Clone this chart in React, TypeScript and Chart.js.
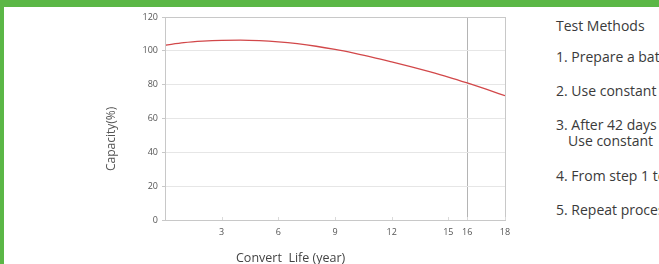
import React, { useEffect, useRef } from "react";
import { Chart, registerables } from "chart.js";

Chart.register(...registerables);

const years = [0, 1, 2, 3, 4, 5, 6, 7, 8, 9, 10, 11, 12, 13, 14, 15, 16, 17, 18];
const capacity = [103.3, 104.8, 105.7, 106.2, 106.3, 106.0, 105.3, 104.2, 102.7, 100.8, 98.6, 96.2, 93.5, 90.7, 87.7, 84.5, 81.0, 77.3, 73.5];
const xTicks = [3, 6, 9, 12, 15, 16, 18];
const yTicks = [0, 20, 40, 60, 80, 100, 120];
const markerYear = 16;
const xTitle = "Convert  Life (year)";
const yTitle = "Capacity(%)";
const methodsTitle = "Test Methods";
const methods = [
  "1. Prepare a battery",
  "2. Use constant",
  "3. After 42 days",
  "Use constant",
  "4. From step 1 to",
  "5. Repeat process",
];

const frame = {
  id: "frame",
  afterDraw(chart: any) {
    const { ctx, chartArea } = chart;
    ctx.save();
    ctx.strokeStyle = "#c8c8c8";
    ctx.lineWidth = 1;
    ctx.strokeRect(Math.round(chartArea.left) + 0.5, Math.round(chartArea.top) + 0.5, Math.round(chartArea.right - chartArea.left), Math.round(chartArea.bottom - chartArea.top));
    const xs = chart.scales.x;
    ctx.strokeStyle = "#dadada";
    xTicks.forEach((v) => {
      const px = Math.round(xs.getPixelForValue(v)) + 0.5;
      ctx.beginPath();
      ctx.moveTo(px, chartArea.bottom);
      ctx.lineTo(px, chartArea.bottom - 3);
      ctx.stroke();
    });
    ctx.restore();
  },
};

export default function App() {
  const ref = useRef<HTMLCanvasElement>(null);
  useEffect(() => {
    if (!ref.current) return;
    const chart = new Chart(ref.current, {
      type: "line",
      data: {
        datasets: [
          {
            data: years.map((y, i) => ({ x: y, y: capacity[i] })),
            borderColor: "#d2484a",
            borderWidth: 1.3,
            pointRadius: 0,
            cubicInterpolationMode: "monotone",
            fill: false,
          },
        ],
      },
      plugins: [frame],
      options: {
        animation: false,
        responsive: false,
        maintainAspectRatio: false,
        layout: { padding: { left: 0, top: 17, right: 35, bottom: 0 } },
        plugins: { legend: { display: false }, tooltip: { enabled: false } },
        scales: {
          x: {
            type: "linear",
            min: 0,
            max: 18,
            afterBuildTicks: (s: any) => {
              s.ticks = xTicks.map((v) => ({ value: v }));
            },
            afterFit: (s: any) => {
              s.height = 44;
            },
            ticks: {
              autoSkip: false,
              maxRotation: 0,
              padding: 7,
              color: "#555",
              font: { family: "Open Sans", size: 9 },
            },
            grid: {
              drawTicks: false,
              color: (c: any) => (c.tick && c.tick.value === markerYear ? "#b4b4b4" : "rgba(0,0,0,0)"),
              lineWidth: 1,
            },
            border: { color: "#c8c8c8" },
          },
          y: {
            min: 0,
            max: 120,
            afterBuildTicks: (s: any) => {
              s.ticks = yTicks.map((v) => ({ value: v }));
            },
            afterFit: (s: any) => {
              s.width = 165;
            },
            ticks: {
              padding: 4,
              color: "#555",
              font: { family: "Open Sans", size: 9 },
            },
            grid: { color: "#e6e6e6", tickLength: 3, tickColor: "#c8c8c8" },
            border: { color: "#c8c8c8" },
          },
        },
      },
    });
    return () => chart.destroy();
  }, []);

  const textStyle: React.CSSProperties = {
    position: "absolute",
    left: 556,
    fontFamily: "Open Sans",
    fontSize: 14,
    color: "#3a3a3a",
    whiteSpace: "nowrap",
    lineHeight: "16px",
  };
  const tops = [18, 49, 83, 117, 133, 168, 202];

  return (
    <div
      style={{
        position: "fixed",
        left: 0,
        top: 0,
        width: 659,
        height: 264,
        background: "#fff",
        overflow: "hidden",
      }}
    >
      <canvas ref={ref} width={540} height={264} style={{ position: "absolute", left: 0, top: 0, width: 540, height: 264 }} />
      <div style={{ position: "absolute", left: 0, top: 0, width: 659, height: 7, background: "#5bb746" }} />
      <div style={{ position: "absolute", left: 0, top: 0, width: 4, height: 264, background: "#5bb746" }} />
      <div
        style={{
          position: "absolute",
          left: 236,
          top: 249,
          fontFamily: "Open Sans",
          fontSize: 12.5,
          lineHeight: "17px",
          color: "#444",
          whiteSpace: "pre",
        }}
      >
        {xTitle}
      </div>
      <div
        style={{
          position: "absolute",
          left: 103,
          top: 106,
          height: 66,
          writingMode: "vertical-rl",
          transform: "rotate(180deg)",
          fontFamily: "Open Sans",
          fontSize: 12,
          lineHeight: "16px",
          textAlign: "center",
          color: "#555",
          whiteSpace: "nowrap",
        }}
      >
        {yTitle}
      </div>
      <div style={{ ...textStyle, top: tops[0] }}>{methodsTitle}</div>
      {methods.map((m, i) => (
        <div key={i} style={{ ...textStyle, top: tops[i + 1], left: m.startsWith("Use") ? 568 : 556 }}>
          {m}
        </div>
      ))}
    </div>
  );
}
